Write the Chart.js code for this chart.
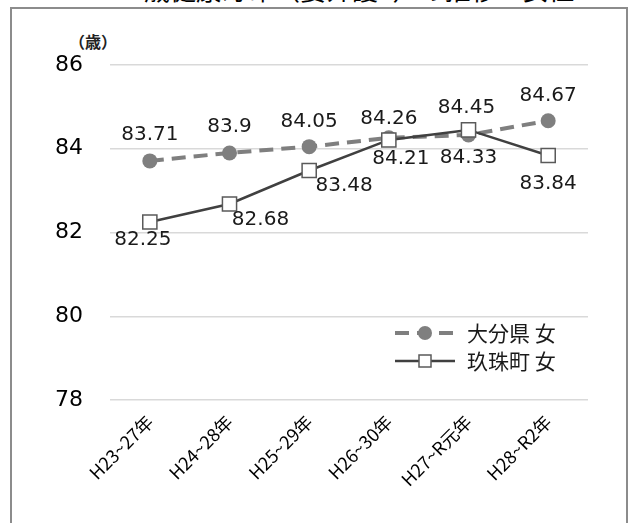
<!DOCTYPE html>
<html lang="ja">
<head>
<meta charset="utf-8">
<script src="https://cdn.jsdelivr.net/npm/chart.js@4/dist/chart.umd.min.js"></script>
<style>
  html, body { margin: 0; padding: 0; background: #fff; }
  body { width: 628px; height: 523px; position: relative; overflow: hidden; }
  #title {
    position: absolute; left: 0; width: 704px; top: -24px;
    text-align: center; font: 26px/26px "Noto Sans CJK JP", sans-serif; color: #000;
    white-space: nowrap;
  }
  #frame {
    position: absolute; left: 10px; top: 7px; width: 618px; height: 560px;
    border: 2px solid #8c8c8c; box-sizing: border-box;
  }
  #unit {
    position: absolute; left: 69px; top: 29px;
    font: bold 16px "Noto Sans CJK JP", sans-serif; color: #222;
  }
  canvas { position: absolute; left: 0; top: 0; }
</style>
</head>
<body>
<div id="title">0歳健康寿命（要介護2）の推移　女性</div>
<div id="frame"></div>
<div id="unit">（歳）</div>
<canvas id="c" width="628" height="523"></canvas>
<script>
// 期間ごとの女性の健康寿命（歳）
const periods = ['H23~27年', 'H24~28年', 'H25~29年', 'H26~30年', 'H27~R元年', 'H28~R2年'];
const oitaFemale = [83.71, 83.9, 84.05, 84.26, 84.33, 84.67];
const kusuFemale = [82.25, 82.68, 83.48, 84.21, 84.45, 83.84];
const seriesNames = ['大分県 女', '玖珠町 女'];
const yTicks = [78, 80, 82, 84, 86];

// 数値ラベルの配置（点からのずれ, px）
const labelOffsets = [
  [[0, -26], [0, -26], [0, -25], [0, -19], [0, 23], [0, -25]],
  [[-7, 18], [31, 16], [35, 15], [12, 19], [-2, -22], [0, 28]]
];

const valueLabels = {
  id: 'valueLabels',
  afterDatasetsDraw(chart) {
    const ctx = chart.ctx;
    ctx.save();
    ctx.font = '20px "DejaVu Sans", sans-serif';
    ctx.fillStyle = '#1a1a1a';
    ctx.textAlign = 'center';
    ctx.textBaseline = 'middle';
    chart.data.datasets.forEach((ds, di) => {
      chart.getDatasetMeta(di).data.forEach((pt, i) => {
        const [dx, dy] = labelOffsets[di][i];
        ctx.fillText(String(ds.data[i]), pt.x + dx, pt.y + dy);
      });
    });
    ctx.restore();
  }
};

// 凡例（プロット領域の右下）
const innerLegend = {
  id: 'innerLegend',
  afterDraw(chart) {
    const ctx = chart.ctx;
    const a = chart.chartArea;
    const rows = [a.bottom - 67, a.bottom - 39];
    ctx.save();
    chart.data.datasets.forEach((ds, di) => {
      const y = rows[di];
      const x0 = a.right - 193, x1 = a.right - 133, xm = (x0 + x1) / 2;
      ctx.strokeStyle = ds.borderColor;
      ctx.lineWidth = ds.borderWidth;
      ctx.setLineDash(ds.borderDash || []);
      ctx.beginPath(); ctx.moveTo(x0, y); ctx.lineTo(x1, y); ctx.stroke();
      ctx.setLineDash([]);
      ctx.fillStyle = ds.pointBackgroundColor;
      ctx.strokeStyle = ds.pointBorderColor;
      ctx.lineWidth = ds.pointBorderWidth;
      if (ds.pointStyle === 'circle') {
        ctx.beginPath(); ctx.arc(xm, y, 7, 0, Math.PI * 2); ctx.fill();
      } else {
        ctx.fillRect(xm - 6, y - 6, 12, 12);
        ctx.strokeRect(xm - 6, y - 6, 12, 12);
      }
      ctx.fillStyle = '#1a1a1a';
      ctx.font = '21px "Noto Sans CJK JP", sans-serif';
      ctx.textAlign = 'left';
      ctx.textBaseline = 'middle';
      ctx.fillText(ds.label, a.right - 121, y);
    });
    ctx.restore();
  }
};

new Chart(document.getElementById('c'), {
  type: 'line',
  data: {
    labels: periods,
    datasets: [
      {
        label: seriesNames[0],
        data: oitaFemale,
        order: 1,
        borderColor: '#7f7f7f',
        borderWidth: 4,
        borderDash: [14, 8],
        pointStyle: 'circle',
        pointRadius: 7.5,
        pointBackgroundColor: '#7f7f7f',
        pointBorderColor: '#7f7f7f',
        pointBorderWidth: 0,
        tension: 0
      },
      {
        label: seriesNames[1],
        data: kusuFemale,
        order: 0,
        borderColor: '#404040',
        borderWidth: 2.5,
        pointStyle: 'rect',
        pointRadius: 10,
        pointBackgroundColor: '#ffffff',
        pointBorderColor: '#5a5a5a',
        pointBorderWidth: 1.5,
        tension: 0
      }
    ]
  },
  options: {
    responsive: false,
    devicePixelRatio: 1,
    animation: false,
    layout: { padding: { top: 65, right: 40, left: 0, bottom: 0 } },
    plugins: {
      legend: { display: false },
      tooltip: { enabled: false },
      title: { display: false }
    },
    scales: {
      x: {
        offset: true,
        grid: { display: false },
        border: { display: false },
        ticks: {
          maxRotation: 45, minRotation: 45, padding: 3,
          color: '#000',
          font: { family: '"Noto Sans CJK JP", sans-serif', size: 18 }
        },
        afterFit(scale) { scale.height = 123; }
      },
      y: {
        min: yTicks[0],
        max: yTicks[yTicks.length - 1],
        afterBuildTicks(scale) { scale.ticks = yTicks.map(v => ({ value: v })); },
        grid: { color: '#d9d9d9', lineWidth: 1.5, drawTicks: false },
        border: { display: false },
        ticks: {
          padding: 27,
          color: '#000',
          font: { family: '"DejaVu Sans", sans-serif', size: 22 }
        },
        afterFit(scale) { scale.width = 110; }
      }
    }
  },
  plugins: [valueLabels, innerLegend]
});
</script>
</body>
</html>
